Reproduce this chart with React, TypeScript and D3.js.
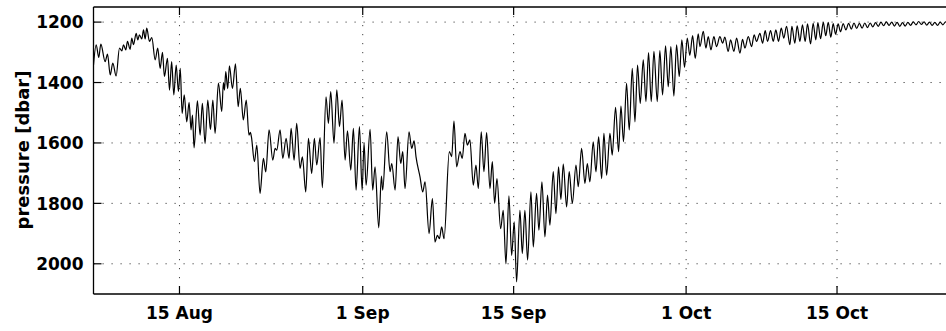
import React from "react";
import * as d3 from "d3";

// Days since the left edge of the record (Aug 7, 00:35 UTC) and pressure [dbar]
const augustA: [number, number][] = [
  [0, 1342], [0.25, 1275], [0.49, 1317], [0.68, 1273], [1.08, 1331], [1.3, 1306], [1.55, 1375], [1.79, 1336],
  [2.1, 1378], [2.41, 1286], [2.63, 1295], [2.78, 1275], [3.0, 1292], [3.15, 1264], [3.4, 1290], [3.55, 1253],
  [3.71, 1275], [3.96, 1237], [4.11, 1259], [4.26, 1242], [4.48, 1256], [4.64, 1226], [4.79, 1256], [4.94, 1220],
  [5.19, 1264], [5.41, 1251], [5.72, 1325], [5.96, 1286], [6.18, 1353], [6.4, 1300], [6.58, 1380], [6.86, 1320],
  [7.05, 1425], [7.25, 1331], [7.45, 1441], [7.67, 1342], [7.88, 1430], [8.05, 1353], [8.22, 1502], [8.42, 1441],
  [8.65, 1530], [8.87, 1466], [9.05, 1557], [9.18, 1508], [9.33, 1616], [9.64, 1461], [9.89, 1574], [10.1, 1469],
  [10.35, 1602], [10.6, 1458], [10.85, 1556], [11.07, 1458], [11.28, 1568],
];
const augustB: [number, number][] = [
  [11.59, 1402], [11.9, 1496], [12.05, 1400], [12.15, 1425], [12.27, 1364], [12.45, 1420], [12.61, 1345], [12.89, 1420],
  [13.17, 1338], [13.42, 1480], [13.62, 1419], [13.9, 1524], [14.17, 1458], [14.42, 1574], [14.55, 1565], [14.65, 1580],
  [14.93, 1662], [15.15, 1607], [15.45, 1767], [15.76, 1651], [15.98, 1696], [16.29, 1557], [16.63, 1657], [16.85, 1618],
  [17.0, 1624], [17.31, 1557], [17.56, 1651], [17.87, 1585], [18.14, 1651], [18.33, 1552], [18.61, 1657], [18.85, 1535],
  [19.16, 1684], [19.38, 1646], [19.69, 1762], [19.94, 1585], [20.24, 1701], [20.49, 1585], [20.71, 1673], [21.02, 1582],
  [21.23, 1748], [21.57, 1447], [21.79, 1535], [22.01, 1430], [22.31, 1601],
];
const septemberA: [number, number][] = [
  [22.57, 1424], [22.82, 1546], [23.06, 1458], [23.34, 1657], [23.56, 1560], [23.87, 1690], [24.11, 1552], [24.36, 1756],
  [24.67, 1546], [24.92, 1756], [25.1, 1601], [25.29, 1740], [25.66, 1555], [25.9, 1756], [26.12, 1679], [26.46, 1881],
  [26.71, 1710], [26.83, 1756], [27.2, 1563], [27.51, 1695], [27.67, 1668], [27.98, 1756], [28.25, 1579], [28.5, 1668],
  [28.69, 1629], [28.9, 1751], [29.27, 1563], [29.52, 1618], [29.74, 1593], [29.92, 1646], [30.29, 1712], [30.54, 1762],
  [30.76, 1729], [31.13, 1900], [31.44, 1784], [31.68, 1928], [31.9, 1906], [32.09, 1917], [32.3, 1878], [32.52, 1917],
  [33.01, 1629], [33.23, 1645], [33.44, 1528],
];
const septemberB: [number, number][] = [
  [33.69, 1679], [34.0, 1629], [34.21, 1651], [34.46, 1568], [34.68, 1607], [34.92, 1590], [35.23, 1740], [35.48, 1673],
  [35.7, 1751], [35.97, 1563], [36.22, 1695], [36.47, 1566], [36.78, 1751], [37.0, 1662], [37.21, 1800], [37.43, 1718],
  [37.77, 1884], [38.01, 1823], [38.26, 2000], [38.54, 1775], [38.79, 1972], [39.03, 1861], [39.25, 2060], [39.56, 1823],
  [39.78, 1966], [40.02, 1823], [40.27, 1988], [40.58, 1762], [40.8, 1944], [41.1, 1767], [41.32, 1889], [41.6, 1729],
  [41.88, 1911], [42.12, 1773], [42.34, 1872], [42.65, 1695], [42.9, 1834], [43.14, 1679], [43.36, 1787], [43.58, 1670],
  [43.89, 1812], [44.13, 1695], [44.42, 1800],
];
const septemberC: [number, number][] = [
  [44.76, 1673], [44.97, 1745], [45.28, 1618], [45.59, 1734], [45.81, 1668], [46.05, 1729], [46.36, 1596], [46.61, 1696],
  [46.86, 1580], [47.14, 1718], [47.35, 1568], [47.6, 1707], [47.91, 1568], [48.12, 1640], [48.43, 1482], [48.71, 1629],
  [48.93, 1478], [49.17, 1596], [49.45, 1403], [49.7, 1557], [49.98, 1353], [50.23, 1530], [50.47, 1342], [50.72, 1469],
  [51.0, 1325], [51.25, 1463], [51.49, 1301], [51.74, 1463], [51.99, 1297], [52.3, 1463], [52.54, 1294], [52.79, 1441],
  [53.07, 1279], [53.32, 1414], [53.56, 1281], [53.84, 1445], [54.09, 1275], [54.34, 1380], [54.58, 1259], [54.83, 1350],
  [55.08, 1253], [55.32, 1310],
];
const octoberA: [number, number][] = [
  [55.58, 1245], [55.82, 1320], [56.1, 1239], [56.26, 1281], [56.57, 1231], [56.81, 1286], [57.03, 1248], [57.28, 1292],
  [57.55, 1248], [57.8, 1281], [58.11, 1248], [58.36, 1270], [58.57, 1250], [58.88, 1297], [59.1, 1259], [59.41, 1297],
  [59.66, 1253], [59.97, 1303], [60.21, 1257], [60.43, 1286], [60.74, 1248], [61.05, 1281], [61.29, 1242], [61.51, 1264],
  [61.82, 1237], [62.07, 1270], [62.31, 1228], [62.53, 1264], [62.81, 1228], [63.06, 1264], [63.3, 1226], [63.55, 1264],
  [63.8, 1220], [64.04, 1253], [64.29, 1214], [64.6, 1275], [64.79, 1214], [65.06, 1270], [65.28, 1212], [65.53, 1264],
  [65.77, 1209], [66.02, 1264], [66.24, 1206], [66.52, 1272], [66.76, 1204], [67.01, 1259],
];
const octoberB: [number, number][] = [
  [67.2, 1202], [67.45, 1255], [67.7, 1201], [67.93, 1245], [68.16, 1201], [68.4, 1250], [68.62, 1205], [68.84, 1240],
  [69.08, 1206], [69.3, 1232], [69.55, 1205], [69.8, 1226], [70.05, 1204], [70.3, 1223], [70.55, 1203], [70.8, 1221],
  [71.05, 1204], [71.3, 1220], [71.55, 1203], [71.8, 1218], [72.05, 1203], [72.3, 1216], [72.55, 1202], [72.8, 1214],
  [73.05, 1200], [73.3, 1212], [73.55, 1199], [73.8, 1211], [74.05, 1200], [74.3, 1213], [74.55, 1201], [74.8, 1214],
  [75.05, 1202], [75.3, 1213], [75.55, 1201], [75.8, 1211], [76.05, 1199], [76.3, 1209], [76.55, 1198], [76.8, 1208],
  [77.05, 1199], [77.3, 1210], [77.55, 1200], [77.8, 1211], [78.05, 1201], [78.3, 1211], [78.55, 1200], [78.8, 1209],
  [79.05, 1199], [79.3, 1208],
];

const yTicks = [1200, 1400, 1600, 1800, 2000];
const xTickDates = ["2012-08-15", "2012-09-01", "2012-09-15", "2012-10-01", "2012-10-15"];
const xTickLabels = ["15 Aug", "1 Sep", "15 Sep", "1 Oct", "15 Oct"];
const recordStart = "2012-08-07T00:35:00Z";
const domainEnd = "2012-10-25T07:05:00Z";
const pressureDomain = [1150, 2100];

const W = 946;
const H = 331;
const left = 93.5;
const right = 948;
const top = 7;
const bottom = 294;
const DAY = 86400000;

export default function App() {
  const t0 = new Date(recordStart).getTime();
  const x = d3.scaleUtc().domain([new Date(recordStart), new Date(domainEnd)]).range([left, right]);
  const y = d3.scaleLinear().domain(pressureDomain).range([top, bottom]);

  const series = [...augustA, ...augustB, ...septemberA, ...septemberB, ...septemberC, ...octoberA, ...octoberB];
  const line = d3
    .line<[number, number]>()
    .x((d) => x(new Date(t0 + d[0] * DAY)))
    .y((d) => y(d[1]))
    .curve(d3.curveMonotoneX);

  const font = "'DejaVu Sans', sans-serif";
  const tickLen = 8;

  return (
    <svg width={W} height={H} style={{ position: "absolute", left: 0, top: 0, background: "#fff" }}>
      <defs>
        <clipPath id="plot">
          <rect x={left} y={top} width={right - left} height={bottom - top} />
        </clipPath>
      </defs>
      <rect x={0} y={0} width={W} height={H} fill="#fff" />
      {/* grid */}
      {yTicks.map((t) => (
        <line key={"gy" + t} x1={left} x2={right} y1={y(t)} y2={y(t)} stroke="#444" strokeWidth={1}
          strokeDasharray="1.2 7.8" />
      ))}
      {xTickDates.map((t) => {
        const xx = x(new Date(t + "T00:00:00Z"));
        return (
          <line key={"gx" + t} x1={xx} x2={xx} y1={top} y2={bottom} stroke="#444" strokeWidth={1}
            strokeDasharray="1.2 7.8" />
        );
      })}
      {/* data */}
      <path d={line(series) || ""} fill="none" stroke="#000" strokeWidth={1.2} clipPath="url(#plot)" />
      {/* frame */}
      <line x1={left} x2={right} y1={top} y2={top} stroke="#000" strokeWidth={1.3} />
      <line x1={left} x2={right} y1={bottom} y2={bottom} stroke="#000" strokeWidth={1.3} />
      <line x1={left} x2={left} y1={top} y2={bottom} stroke="#000" strokeWidth={1.3} />
      {/* ticks */}
      {yTicks.map((t) => (
        <g key={"ty" + t}>
          <line x1={left} x2={left + tickLen} y1={y(t)} y2={y(t)} stroke="#000" strokeWidth={1.2} />
          <text x={83.5} y={y(t) + 6.3} textAnchor="end" fontFamily={font} fontWeight="bold" fontSize={17}>
            {t}
          </text>
        </g>
      ))}
      {xTickDates.map((t, i) => {
        const xx = x(new Date(t + "T00:00:00Z"));
        return (
          <g key={"tx" + t}>
            <line x1={xx} x2={xx} y1={bottom} y2={bottom - tickLen} stroke="#000" strokeWidth={1.2} />
            <line x1={xx} x2={xx} y1={top} y2={top + tickLen} stroke="#000" strokeWidth={1.2} />
            <text x={xx} y={318.5} textAnchor="middle" fontFamily={font} fontWeight="bold" fontSize={17}>
              {xTickLabels[i]}
            </text>
          </g>
        );
      })}
      <text transform={`translate(29,150) rotate(-90)`} textAnchor="middle" fontFamily={font} fontWeight="bold"
        fontSize={18}>
        pressure [dbar]
      </text>
    </svg>
  );
}
